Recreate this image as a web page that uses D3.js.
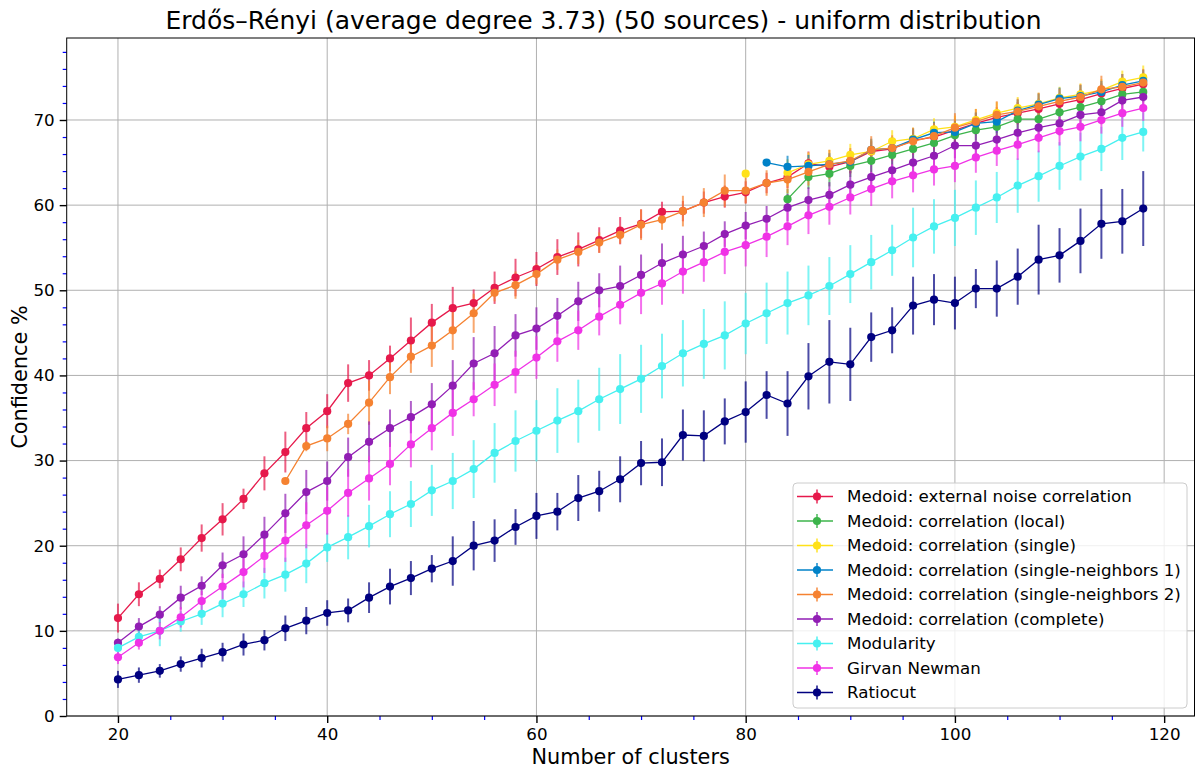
<!DOCTYPE html>
<html>
<head>
<meta charset="utf-8">
<script src="https://cdn.jsdelivr.net/npm/d3@7"></script>
<style>
  body { margin: 0; background: #ffffff; }
  svg { display: block; font-family: "DejaVu Sans", sans-serif; }
</style>
</head>
<body>
<svg id="chart" width="1195" height="772"></svg>
<script>
// Number of clusters on the x axis
const clusters = [20, 22, 24, 26, 28, 30, 32, 34, 36, 38, 40, 42, 44, 46, 48, 50, 52, 54, 56, 58,
                  60, 62, 64, 66, 68, 70, 72, 74, 76, 78, 80, 82, 84, 86, 88, 90, 92, 94, 96, 98,
                  100, 102, 104, 106, 108, 110, 112, 114, 116, 118];

const xMajorTicks = [20, 40, 60, 80, 100, 120];
const yMajorTicks = [0, 10, 20, 30, 40, 50, 60, 70];

// Mean confidence (%) and its spread, one value per cluster count (null = not measured)
const externalNoise = [11.5, 14.3, 16.1, 18.4, 20.9, 23.1, 25.5, 28.5, 31.0, 33.8, 35.8, 39.1, 40.0, 42.0, 44.1, 46.2, 47.9, 48.5, 50.3, 51.5,
                       52.5, 53.9, 54.8, 55.9, 57.0, 57.8, 59.2, 59.3, 60.3, 61.0, 61.5, 62.6, 63.3, 64.9, 64.5, 65.1, 66.3, 66.6, 67.6, 68.0,
                       68.8, 69.6, 70.3, 70.8, 71.3, 71.9, 72.4, 73.1, 73.7, 74.2];
const externalNoiseErr = [1.7, 1.4, 1.1, 1.4, 1.6, 1.9, 1.2, 2.0, 2.4, 1.9, 2.0, 2.2, 1.8, 1.5, 2.7, 2.2, 2.5, 1.6, 1.9, 2.2,
                          2.0, 2.1, 2.0, 1.5, 1.6, 1.7, 1.2, 1.2, 1.3, 1.3, 1.3, 1.2, 1.3, 1.4, 1.3, 1.3, 1.2, 1.3, 1.2, 1.2,
                          1.3, 1.2, 1.2, 1.3, 1.2, 1.2, 1.2, 1.2, 1.3, 1.3];

const corrLocal = [null, null, null, null, null, null, null, null, null, null, null, null, null, null, null, null, null, null, null, null,
                   null, null, null, null, null, null, null, null, null, null, null, null, 60.7, 63.3, 63.7, 64.6, 65.2, 65.9, 66.6, 67.3,
                   68.2, 68.8, 69.2, 70.1, 70.1, 70.9, 71.5, 72.2, 73.0, 73.3];
const corrLocalErr = [null, null, null, null, null, null, null, null, null, null, null, null, null, null, null, null, null, null, null, null,
                      null, null, null, null, null, null, null, null, null, null, null, null, 1.2, 1.4, 1.5, 1.3, 1.4, 1.3, 1.2, 1.3,
                      1.3, 1.2, 1.2, 1.3, 1.2, 1.3, 1.2, 1.2, 1.3, 1.2];

const corrSingle = [null, null, null, null, null, null, null, null, null, null, null, null, null, null, null, null, null, null, null, null,
                    null, null, null, null, null, null, null, null, null, null, 63.7, null, 63.8, 64.8, 65.2, 65.9, 66.3, 67.5, 67.8, 68.9,
                    69.2, 70.0, 70.8, 71.4, 71.9, 72.6, 73.0, 73.5, 74.5, 75.0];
const corrSingleErr = [null, null, null, null, null, null, null, null, null, null, null, null, null, null, null, null, null, null, null, null,
                       null, null, null, null, null, null, null, null, null, null, 0.3, null, 1.6, 1.4, 1.3, 1.3, 1.4, 1.3, 1.3, 1.3,
                       1.3, 1.3, 1.3, 1.3, 1.3, 1.3, 1.3, 1.3, 1.3, 1.4];

const corrSingleN1 = [null, null, null, null, null, null, null, null, null, null, null, null, null, null, null, null, null, null, null, null,
                      null, null, null, null, null, null, null, null, null, null, null, 65.0, 64.5, 64.6, 64.8, 65.1, 66.5, 66.7, 67.7, 68.5,
                      68.6, 69.6, 69.8, 71.1, 71.8, 72.5, 72.8, 73.3, 74.1, 74.6];
const corrSingleN1Err = [null, null, null, null, null, null, null, null, null, null, null, null, null, null, null, null, null, null, null, null,
                         null, null, null, null, null, null, null, null, null, null, null, 0.3, 1.3, 1.3, 1.3, 1.3, 1.3, 1.3, 1.3, 1.3,
                         1.3, 1.3, 1.3, 1.3, 1.3, 1.3, 1.3, 1.3, 1.3, 1.3];

const corrSingleN2 = [null, null, null, null, null, null, null, null, 27.6, 31.7, 32.6, 34.3, 36.8, 39.8, 42.2, 43.5, 45.3, 47.3, 49.7, 50.6,
                      51.9, 53.6, 54.5, 55.6, 56.5, 57.7, 58.3, 59.3, 60.3, 61.7, 61.7, 62.6, 63.0, 63.9, 64.8, 65.2, 66.5, 66.7, 67.5, 68.1,
                      69.1, 69.8, 70.6, 71.0, 71.6, 72.2, 72.7, 73.6, 73.9, 74.4];
const corrSingleN2Err = [null, null, null, null, null, null, null, null, 0.4, 0.6, 1.5, 1.2, 2.6, 2.0, 1.9, 2.5, 2.3, 2.3, 1.0, 1.6,
                         1.2, 1.2, 1.4, 1.2, 1.0, 1.8, 1.2, 1.8, 1.7, 1.9, 1.5, 1.5, 1.6, 1.6, 1.7, 1.5, 1.6, 1.5, 1.6, 1.6,
                         1.7, 1.5, 1.6, 1.5, 1.6, 1.5, 1.5, 1.6, 1.5, 1.6];

const corrComplete = [8.6, 10.5, 11.9, 13.9, 15.3, 17.7, 19.0, 21.3, 23.8, 26.3, 27.6, 30.4, 32.2, 33.8, 35.1, 36.6, 38.8, 41.4, 42.6, 44.7,
                      45.5, 47.0, 48.7, 50.0, 50.5, 51.8, 53.2, 54.2, 55.2, 56.6, 57.6, 58.4, 59.7, 60.6, 61.2, 62.4, 63.3, 64.1, 65.0, 65.8,
                      67.0, 67.0, 67.7, 68.5, 69.1, 69.6, 70.6, 70.9, 72.3, 72.7];
const corrCompleteErr = [0.5, 1.0, 1.0, 1.4, 1.1, 1.5, 2.1, 2.1, 2.3, 2.6, 2.3, 2.3, 2.4, 2.2, 1.9, 2.5, 3.0, 3.1, 3.2, 2.5,
                         2.5, 2.1, 2.3, 2.0, 2.4, 2.4, 2.3, 2.2, 1.7, 1.5, 1.6, 1.5, 1.6, 1.5, 1.5, 1.6, 1.5, 1.4, 1.5, 1.5,
                         1.5, 1.4, 1.5, 1.5, 1.4, 1.4, 1.5, 1.4, 1.4, 1.3];

const modularity = [8.0, 9.3, 10.0, 11.1, 12.0, 13.2, 14.3, 15.6, 16.6, 17.9, 19.8, 21.0, 22.3, 23.7, 24.9, 26.5, 27.6, 29.0, 30.9, 32.3,
                    33.5, 34.7, 35.8, 37.2, 38.4, 39.6, 41.1, 42.6, 43.7, 44.7, 46.1, 47.3, 48.5, 49.4, 50.5, 51.9, 53.3, 54.7, 56.2, 57.5,
                    58.5, 59.7, 60.9, 62.3, 63.4, 64.6, 65.7, 66.6, 67.9, 68.6];
const modularityErr = [0.8, 1.0, 1.8, 1.2, 1.3, 1.6, 1.5, 1.8, 2.0, 2.3, 1.7, 2.6, 2.5, 2.7, 2.7, 3.0, 3.3, 3.4, 3.5, 3.6,
                       3.6, 3.8, 3.7, 3.7, 4.1, 4.0, 3.8, 3.9, 4.1, 4.0, 3.6, 3.6, 3.7, 3.5, 3.4, 3.4, 3.2, 3.0, 3.5, 3.2,
                       3.3, 3.2, 3.0, 3.2, 3.0, 2.8, 2.8, 2.6, 2.6, 2.3];

const girvanNewman = [6.9, 8.6, 10.0, 11.6, 13.5, 15.2, 16.9, 18.8, 20.6, 22.4, 24.1, 26.2, 27.9, 29.6, 31.9, 33.8, 35.6, 37.2, 38.9, 40.4,
                      42.1, 44.0, 45.3, 46.9, 48.3, 49.7, 50.8, 52.2, 53.3, 54.5, 55.3, 56.3, 57.5, 58.8, 59.8, 60.9, 61.9, 62.8, 63.5, 64.2,
                      64.6, 65.6, 66.4, 67.1, 67.9, 68.7, 69.2, 70.0, 70.8, 71.4];
const girvanNewmanErr = [0.8, 0.8, 1.0, 1.2, 1.2, 1.5, 1.8, 2.0, 2.5, 2.7, 2.8, 2.8, 2.6, 2.5, 2.7, 2.6, 2.7, 2.0, 2.5, 2.5,
                         2.5, 2.4, 2.3, 2.2, 2.3, 2.5, 2.5, 2.6, 2.3, 2.6, 2.5, 2.4, 2.2, 2.2, 2.1, 2.0, 2.0, 2.0, 2.0, 1.9,
                         1.9, 1.8, 1.8, 1.8, 1.7, 1.7, 1.7, 1.6, 1.6, 1.5];

const ratiocut = [4.3, 4.8, 5.3, 6.1, 6.8, 7.5, 8.4, 8.9, 10.3, 11.2, 12.1, 12.4, 13.9, 15.2, 16.2, 17.3, 18.2, 20.0, 20.6, 22.2,
                  23.5, 24.0, 25.6, 26.4, 27.8, 29.7, 29.8, 33.0, 32.9, 34.6, 35.7, 37.7, 36.7, 39.9, 41.6, 41.3, 44.5, 45.3, 48.2, 48.9,
                  48.5, 50.2, 50.2, 51.6, 53.6, 54.1, 55.8, 57.8, 58.1, 59.6];
const ratiocutErr = [1.0, 0.9, 0.8, 0.9, 1.1, 1.1, 1.3, 1.2, 1.5, 1.6, 1.5, 1.4, 1.8, 2.1, 2.0, 1.6, 2.9, 2.9, 2.5, 2.1,
                     2.7, 2.2, 2.7, 2.4, 2.7, 2.6, 2.8, 3.0, 3.0, 2.7, 3.6, 2.8, 3.8, 3.9, 4.9, 4.3, 2.9, 2.7, 3.4, 3.0,
                     3.1, 2.3, 3.3, 3.3, 4.1, 3.2, 3.8, 4.1, 3.8, 4.4];

const seriesNames = ["Medoid: external noise correlation", "Medoid: correlation (local)", "Medoid: correlation (single)",
                     "Medoid: correlation (single-neighbors 1)", "Medoid: correlation (single-neighbors 2)",
                     "Medoid: correlation (complete)", "Modularity", "Girvan Newman", "Ratiocut"];
const seriesColors = ["#e6194b", "#3cb44b", "#ffe119", "#0082c8", "#f58231", "#911eb4", "#46f0f0", "#f032e6", "#000080"];
const seriesValues = [externalNoise, corrLocal, corrSingle, corrSingleN1, corrSingleN2, corrComplete, modularity, girvanNewman, ratiocut];
const seriesErrors = [externalNoiseErr, corrLocalErr, corrSingleErr, corrSingleN1Err, corrSingleN2Err, corrCompleteErr, modularityErr, girvanNewmanErr, ratiocutErr];

const series = seriesNames.map((name, i) => ({
  name,
  color: seriesColors[i],
  points: clusters.map((c, j) => ({ x: c, y: seriesValues[i][j], e: seriesErrors[i][j] }))
}));

// Layout
const plot = { left: 66.7, right: 1194.5, top: 38, bottom: 716 };

const svg = d3.select("#chart");

const x = d3.scaleLinear().domain([15.1, 122.9]).range([plot.left, plot.right]);
const y = d3.scaleLinear().domain([0, 79.63]).range([plot.bottom, plot.top]);

// Grid
const grid = svg.append("g").attr("class", "grid");
grid.selectAll("line.gx").data(xMajorTicks).join("line")
  .attr("x1", d => x(d)).attr("x2", d => x(d))
  .attr("y1", plot.top).attr("y2", plot.bottom)
  .attr("stroke", "#b0b0b0").attr("stroke-width", 1);
grid.selectAll("line.gy").data(yMajorTicks).join("line")
  .attr("x1", plot.left).attr("x2", plot.right)
  .attr("y1", d => y(d)).attr("y2", d => y(d))
  .attr("stroke", "#b0b0b0").attr("stroke-width", 1);

// Error bars (all drawn beneath the data lines)
const bars = svg.append("g").attr("class", "errorbars");
series.forEach(s => {
  bars.append("g").selectAll("line")
    .data(s.points.filter(p => p.y != null && p.e != null))
    .join("line")
    .attr("x1", p => x(p.x)).attr("x2", p => x(p.x))
    .attr("y1", p => y(p.y - p.e)).attr("y2", p => y(p.y + p.e))
    .attr("stroke", s.color).attr("stroke-opacity", 0.7).attr("stroke-width", 2);
});

// Data lines and markers
const lineGen = d3.line().defined(p => p.y != null).x(p => x(p.x)).y(p => y(p.y));
const marks = svg.append("g").attr("class", "series");
series.forEach(s => {
  const g = marks.append("g");
  g.append("path").attr("d", lineGen(s.points))
    .attr("fill", "none").attr("stroke", s.color).attr("stroke-width", 1.3);
  g.selectAll("circle").data(s.points.filter(p => p.y != null)).join("circle")
    .attr("cx", p => x(p.x)).attr("cy", p => y(p.y)).attr("r", 4.1)
    .attr("fill", s.color);
});

// Axes
const xMinor = d3.range(25, 123, 5).filter(v => v % 20 !== 0);
const yMinor = d3.range(2, 80, 2).filter(v => v % 10 !== 0);

const xAxis = svg.append("g").attr("transform", `translate(0,${plot.bottom})`)
  .call(d3.axisBottom(x).tickValues(xMajorTicks).tickSize(7).tickPadding(5).tickFormat(d3.format("d")));
const xAxisMinor = svg.append("g").attr("transform", `translate(0,${plot.bottom})`)
  .call(d3.axisBottom(x).tickValues(xMinor).tickSize(4).tickFormat(""));
const yAxis = svg.append("g").attr("transform", `translate(${plot.left},0)`)
  .call(d3.axisLeft(y).tickValues(yMajorTicks).tickSize(7).tickPadding(5).tickFormat(d3.format("d")));
const yAxisMinor = svg.append("g").attr("transform", `translate(${plot.left},0)`)
  .call(d3.axisLeft(y).tickValues(yMinor).tickSize(4).tickFormat(""));

[xAxis, yAxis, xAxisMinor, yAxisMinor].forEach(a => a.select(".domain").remove());
[xAxis, yAxis].forEach(a => {
  a.selectAll(".tick line").attr("stroke", "#000").attr("stroke-width", 1.4);
  a.selectAll(".tick text").attr("font-family", "DejaVu Sans").attr("font-size", 16.7).attr("fill", "#000");
});
[xAxisMinor, yAxisMinor].forEach(a => {
  a.selectAll(".tick line").attr("stroke", "#0000ff").attr("stroke-width", 1.2);
});

// Frame
svg.append("rect")
  .attr("x", plot.left).attr("y", plot.top)
  .attr("width", plot.right - plot.left).attr("height", plot.bottom - plot.top)
  .attr("fill", "none").attr("stroke", "#000").attr("stroke-width", 1);

// Titles
svg.append("text").attr("x", 603.5).attr("y", 29).attr("text-anchor", "middle")
  .attr("font-size", 25).attr("fill", "#000")
  .text("Erdős–Rényi (average degree 3.73) (50 sources) - uniform distribution");
svg.append("text").attr("x", (plot.left + plot.right) / 2).attr("y", 764).attr("text-anchor", "middle")
  .attr("font-size", 20.8).attr("fill", "#000").text("Number of clusters");
svg.append("text")
  .attr("transform", `translate(27,${(plot.top + plot.bottom) / 2}) rotate(-90)`)
  .attr("text-anchor", "middle").attr("font-size", 20.8).attr("fill", "#000").text("Confidence %");

// Legend
const legend = svg.append("g").attr("transform", "translate(793,483)");
legend.append("rect").attr("width", 394).attr("height", 225).attr("rx", 4)
  .attr("fill", "#fff").attr("fill-opacity", 0.8).attr("stroke", "#cccccc");
const rowH = 24.5;
series.forEach((s, i) => {
  const cy = 13.5 + i * rowH;
  const row = legend.append("g");
  row.append("line").attr("x1", 24).attr("x2", 24).attr("y1", cy - 7).attr("y2", cy + 7)
    .attr("stroke", s.color).attr("stroke-opacity", 0.7).attr("stroke-width", 2);
  row.append("line").attr("x1", 4).attr("x2", 40).attr("y1", cy).attr("y2", cy)
    .attr("stroke", s.color).attr("stroke-width", 1.3);
  row.append("circle").attr("cx", 24).attr("cy", cy).attr("r", 4.1).attr("fill", s.color);
  row.append("text").attr("x", 54).attr("y", cy).attr("dy", "0.35em")
    .attr("font-size", 16.7).attr("fill", "#000").text(s.name);
});
</script>
</body>
</html>
